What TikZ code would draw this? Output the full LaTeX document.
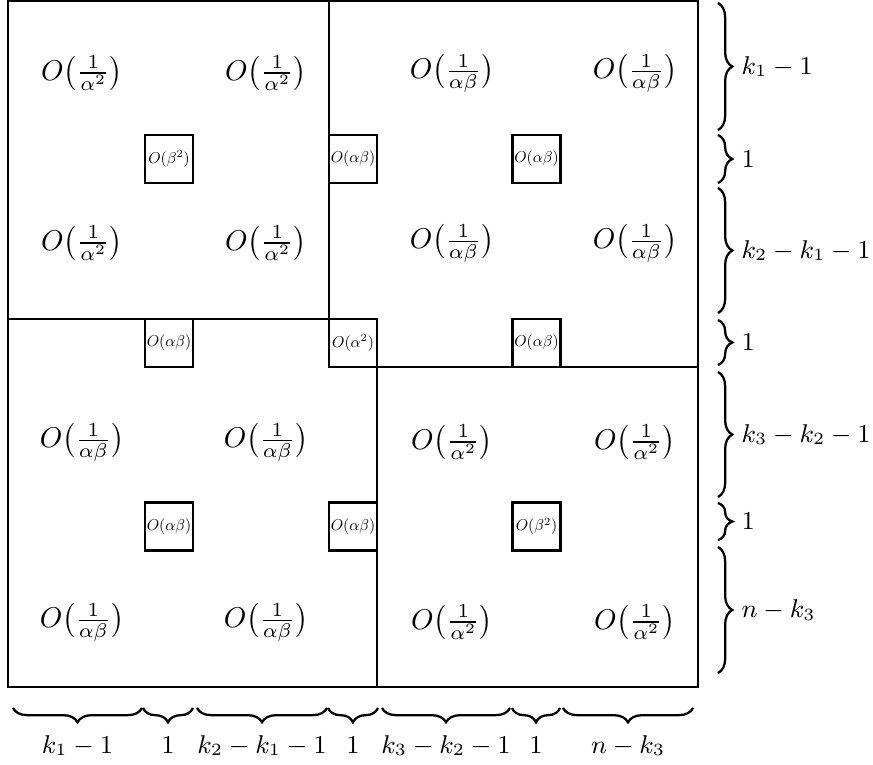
\documentclass[tikz,border=0pt]{standalone}
\usepackage{amsthm, amsmath, amssymb}
\usepackage{tikz}
\usetikzlibrary{decorations.pathreplacing}

\newcommand{\cellentry}[1]{\scalebox{0.55}{$#1$}}

\tikzset{
  wall/.style = {line width=0.8pt},
  cellbox/.style = {draw, line width=0.8pt, minimum size=16.8pt, inner sep=0pt},
  rbrace/.style = {decorate, decoration={brace, amplitude=5pt}, line width=0.8pt},
  bbrace/.style = {decorate, decoration={brace, mirror, amplitude=5pt}, line width=0.8pt},
  size/.style = {font=\small}
}

\begin{document}
\begin{tikzpicture}[x=0.35pt, y=-0.35pt]
        \useasboundingbox (0,0) rectangle (873,764);
        % outer frame and blocks
        \draw[wall] (8,1) rectangle (698,687);
        \draw[wall] (8,319) -- (329,319) -- (329,1);
        \draw[wall] (377,367) -- (698,367);
        \draw[wall] (377,367) -- (377,687);
        % block entries
        \node (a11) at (82,73) {$O\bigl(\frac{1}{\alpha^2}\bigr)$};
        \node (a12) at (266,73) {$O\bigl(\frac{1}{\alpha^2}\bigr)$};
        \node (a13) at (452,73) {$O\bigl(\frac{1}{\alpha\beta}\bigr)$};
        \node (a14) at (635,73) {$O\bigl(\frac{1}{\alpha\beta}\bigr)$};
        \node (a21) at (82,243) {$O\bigl(\frac{1}{\alpha^2}\bigr)$};
        \node (a22) at (266,243) {$O\bigl(\frac{1}{\alpha^2}\bigr)$};
        \node (a23) at (452,243) {$O\bigl(\frac{1}{\alpha\beta}\bigr)$};
        \node (a24) at (635,243) {$O\bigl(\frac{1}{\alpha\beta}\bigr)$};
        \node (a31) at (82,442) {$O\bigl(\frac{1}{\alpha\beta}\bigr)$};
        \node (a32) at (266,442) {$O\bigl(\frac{1}{\alpha\beta}\bigr)$};
        \node (a33) at (452,442) {$O\bigl(\frac{1}{\alpha^2}\bigr)$};
        \node (a34) at (635,442) {$O\bigl(\frac{1}{\alpha^2}\bigr)$};
        \node (a41) at (82,622) {$O\bigl(\frac{1}{\alpha\beta}\bigr)$};
        \node (a42) at (266,622) {$O\bigl(\frac{1}{\alpha\beta}\bigr)$};
        \node (a43) at (452,622) {$O\bigl(\frac{1}{\alpha^2}\bigr)$};
        \node (a44) at (635,622) {$O\bigl(\frac{1}{\alpha^2}\bigr)$};
        % single rows and columns
        \node[cellbox] (c11) at (169,159) {\cellentry{O(\beta^2)}};
        \node[cellbox] (c12) at (353,159) {\cellentry{O(\alpha\beta)}};
        \node[cellbox] (c13) at (536.5,159) {\cellentry{O(\alpha\beta)}};
        \node[cellbox] (c21) at (169,343) {\cellentry{O(\alpha\beta)}};
        \node[cellbox] (c22) at (353,343) {\cellentry{O(\alpha^2)}};
        \node[cellbox] (c23) at (536.5,343) {\cellentry{O(\alpha\beta)}};
        \node[cellbox] (c31) at (169,526.5) {\cellentry{O(\alpha\beta)}};
        \node[cellbox] (c32) at (353,526.5) {\cellentry{O(\alpha\beta)}};
        \node[cellbox] (c33) at (536.5,526.5) {\cellentry{O(\beta^2)}};
        % row sizes
        \draw[rbrace] (718,3) -- (718,130) node[size, midway, right=4.5pt] (r1) {$k_1-1$};
        \draw[rbrace] (718,135) -- (718,183) node[size, midway, right=4.5pt] (r2) {$1$};
        \draw[rbrace] (718,188) -- (718,313) node[size, midway, right=4.5pt] (r3) {$k_2-k_1-1$};
        \draw[rbrace] (718,320) -- (718,365) node[size, midway, right=4.5pt] (r4) {$1$};
        \draw[rbrace] (718,372) -- (718,497) node[size, midway, right=4.5pt] (r5) {$k_3-k_2-1$};
        \draw[rbrace] (718,503) -- (718,540) node[size, midway, right=4.5pt] (r6) {$1$};
        \draw[rbrace] (718,547) -- (718,673) node[size, midway, right=4.5pt] (r7) {$n-k_3$};
        % column sizes
        \draw[bbrace] (13,708) -- (142,708) node[size, midway, yshift=-15.75pt, anchor=base] (s1) {$k_1-1$};
        \draw[bbrace] (143,708) -- (193,708) node[size, midway, yshift=-15.75pt, anchor=base] (s2) {$1$};
        \draw[bbrace] (197,708) -- (327,708) node[size, midway, yshift=-15.75pt, anchor=base] (s3) {$k_2-k_1-1$};
        \draw[bbrace] (328,708) -- (378,708) node[size, midway, yshift=-15.75pt, anchor=base] (s4) {$1$};
        \draw[bbrace] (382,708) -- (510,708) node[size, midway, yshift=-15.75pt, anchor=base] (s5) {$k_3-k_2-1$};
        \draw[bbrace] (512,708) -- (560,708) node[size, midway, yshift=-15.75pt, anchor=base] (s6) {$1$};
        \draw[bbrace] (563,708) -- (693,708) node[size, midway, yshift=-15.75pt, anchor=base] (s7) {$n-k_3$};
      \end{tikzpicture}
\end{document}
